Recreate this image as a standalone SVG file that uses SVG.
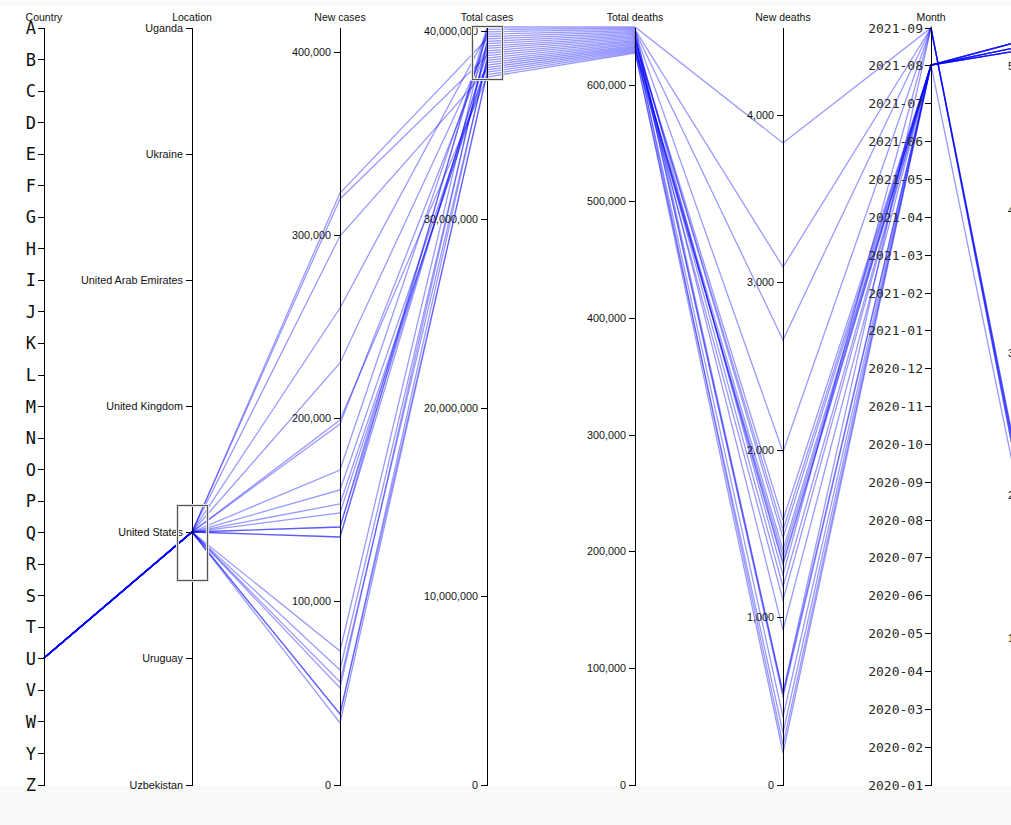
<svg xmlns="http://www.w3.org/2000/svg" width="1011" height="825" viewBox="0 0 1011 825">
<style>
.ax{stroke:#000;stroke-width:1;fill:none;shape-rendering:crispEdges}
.tl{font-family:"Liberation Sans",Arial,sans-serif;font-size:10.8px;fill:#111;text-anchor:end}
.tt{font-family:"Liberation Sans",Arial,sans-serif;font-size:10.5px;fill:#111;text-anchor:middle}
.big{font-family:"DejaVu Sans Mono",monospace;font-size:17px;fill:#111;text-anchor:end}
.mon{font-family:"DejaVu Sans Mono",monospace;font-size:13px;fill:#2a2a2a;text-anchor:end}
.fg polyline{fill:none;stroke:#0000ff;stroke-opacity:0.4;stroke-width:1.3}
.brh{fill:none;stroke:#e2e2e2;stroke-width:3}
.br{fill:none;stroke:#555;stroke-width:1;shape-rendering:crispEdges}
</style>
<rect x="0" y="0" width="1011" height="825" fill="#f9f9f9"/>
<rect x="0" y="6" width="1011" height="780" fill="#fff"/>

<g id="connectors" class="fg">
<polyline points="44,658 192,532 340,420 487,77 635,53 783,556 931,65 1078,785"/>
<polyline points="44,658 192,532 340,714 487,74.6 635,51.8 783,733 931,65 1078,26"/>
<polyline points="44,658 192,532 340,723 487,72.2 635,50.5 783,753 931,65 1078,35"/>
<polyline points="44,658 192,532 340,236 487,69.9 635,49.3 783,600 931,65 1078,41"/>
<polyline points="44,658 192,532 340,504 487,67.5 635,48 783,550 931,65 1078,26"/>
<polyline points="44,658 192,532 340,490 487,65.1 635,46.8 783,562 931,65 1078,35"/>
<polyline points="44,658 192,532 340,513 487,62.7 635,45.6 783,565 931,65 1078,41"/>
<polyline points="44,658 192,532 340,682 487,60.3 635,44.3 783,717 931,65 1078,26"/>
<polyline points="44,658 192,532 340,714 487,58 635,43.1 783,745 931,65 1078,35"/>
<polyline points="44,658 192,532 340,199 487,55.6 635,41.8 783,587 931,65 1078,41"/>
<polyline points="44,658 192,532 340,527 487,53.2 635,40.6 783,530 931,65 1078,26"/>
<polyline points="44,658 192,532 340,537 487,50.8 635,39.4 783,520 931,65 1078,35"/>
<polyline points="44,658 192,532 340,424 487,48.4 635,38.1 783,538 931,65 1078,41"/>
<polyline points="44,658 192,532 340,363 487,46.1 635,36.9 783,630 931,65 1078,26"/>
<polyline points="44,658 192,532 340,670 487,43.7 635,35.6 783,693 931,65 1078,35"/>
<polyline points="44,658 192,532 340,688 487,41.3 635,34.4 783,697 931,65 1078,41"/>
<polyline points="44,658 192,532 340,193 487,38.9 635,33.2 783,575 931,28 1078,765"/>
<polyline points="44,658 192,532 340,470 487,36.5 635,31.9 783,452 931,28 1078,775"/>
<polyline points="44,658 192,532 340,308 487,34.2 635,30.7 783,340 931,28 1078,785"/>
<polyline points="44,658 192,532 340,527 487,31.8 635,29.4 783,267 931,28 1078,765"/>
<polyline points="44,658 192,532 340,651 487,29.4 635,28.2 783,693 931,28 1078,775"/>
<polyline points="44,658 192,532 340,537 487,27 635,27 783,143 931,28 1078,785"/>
</g>

<g id="axis-country">
<path class="ax" d="M44.5,28V785"/>
<path class="ax" d="M38,28H44.5M38,59.5H44.5M38,91.1H44.5M38,122.6H44.5M38,154.2H44.5M38,185.7H44.5M38,217.3H44.5M38,248.8H44.5M38,280.3H44.5M38,311.9H44.5M38,343.4H44.5M38,375H44.5M38,406.5H44.5M38,438H44.5M38,469.6H44.5M38,501.1H44.5M38,532.7H44.5M38,564.2H44.5M38,595.8H44.5M38,627.3H44.5M38,658.8H44.5M38,690.4H44.5M38,721.9H44.5M38,753.5H44.5M38,785H44.5"/>
<text class="big" x="36" y="34">A</text>
<text class="big" x="36" y="65.5">B</text>
<text class="big" x="36" y="97.1">C</text>
<text class="big" x="36" y="128.6">D</text>
<text class="big" x="36" y="160.2">E</text>
<text class="big" x="36" y="191.7">F</text>
<text class="big" x="36" y="223.3">G</text>
<text class="big" x="36" y="254.8">H</text>
<text class="big" x="36" y="286.3">I</text>
<text class="big" x="36" y="317.9">J</text>
<text class="big" x="36" y="349.4">K</text>
<text class="big" x="36" y="381">L</text>
<text class="big" x="36" y="412.5">M</text>
<text class="big" x="36" y="444">N</text>
<text class="big" x="36" y="475.6">O</text>
<text class="big" x="36" y="507.1">P</text>
<text class="big" x="36" y="538.7">Q</text>
<text class="big" x="36" y="570.2">R</text>
<text class="big" x="36" y="601.8">S</text>
<text class="big" x="36" y="633.3">T</text>
<text class="big" x="36" y="664.8">U</text>
<text class="big" x="36" y="696.4">V</text>
<text class="big" x="36" y="727.9">W</text>
<text class="big" x="36" y="759.5">Y</text>
<text class="big" x="36" y="791">Z</text>
<text class="tt" x="44" y="21">Country</text>
</g>

<g id="axis-location">
<path class="ax" d="M192.5,28V785"/>
<path class="ax" d="M186,28H192.5M186,154.2H192.5M186,280.3H192.5M186,406.5H192.5M186,532.7H192.5M186,658.8H192.5M186,785H192.5"/>
<text class="tl" x="183" y="31.5">Uganda</text>
<text class="tl" x="183" y="157.7">Ukraine</text>
<text class="tl" x="183" y="283.8">United Arab Emirates</text>
<text class="tl" x="183" y="410">United Kingdom</text>
<text class="tl" x="183" y="536.2">United States</text>
<text class="tl" x="183" y="662.3">Uruguay</text>
<text class="tl" x="183" y="788.5">Uzbekistan</text>
<text class="tt" x="192" y="21">Location</text>
</g>

<g id="axis-new-cases">
<path class="ax" d="M340.5,28V785"/>
<path class="ax" d="M334,52H340.5M334,235.2H340.5M334,418.5H340.5M334,601.7H340.5M334,785H340.5"/>
<text class="tl" x="331" y="55.5">400,000</text>
<text class="tl" x="331" y="238.7">300,000</text>
<text class="tl" x="331" y="422">200,000</text>
<text class="tl" x="331" y="605.2">100,000</text>
<text class="tl" x="331" y="788.5">0</text>
<text class="tt" x="340" y="21">New cases</text>
</g>

<g id="axis-total-cases">
<path class="ax" d="M487.5,28V785"/>
<path class="ax" d="M481,31H487.5M481,219.5H487.5M481,408H487.5M481,596.5H487.5M481,785H487.5"/>
<text class="tl" x="478" y="34.5">40,000,000</text>
<text class="tl" x="478" y="223">30,000,000</text>
<text class="tl" x="478" y="411.5">20,000,000</text>
<text class="tl" x="478" y="600">10,000,000</text>
<text class="tl" x="478" y="788.5">0</text>
<text class="tt" x="487" y="21">Total cases</text>
</g>

<g id="axis-total-deaths">
<path class="ax" d="M635.5,28V785"/>
<path class="ax" d="M629,85H635.5M629,201.7H635.5M629,318.3H635.5M629,435H635.5M629,551.7H635.5M629,668.3H635.5M629,785H635.5"/>
<text class="tl" x="626" y="88.5">600,000</text>
<text class="tl" x="626" y="205.2">500,000</text>
<text class="tl" x="626" y="321.8">400,000</text>
<text class="tl" x="626" y="438.5">300,000</text>
<text class="tl" x="626" y="555.2">200,000</text>
<text class="tl" x="626" y="671.8">100,000</text>
<text class="tl" x="626" y="788.5">0</text>
<text class="tt" x="635" y="21">Total deaths</text>
</g>

<g id="axis-new-deaths">
<path class="ax" d="M783.5,28V785"/>
<path class="ax" d="M777,115H783.5M777,282.5H783.5M777,450H783.5M777,617.5H783.5M777,785H783.5"/>
<text class="tl" x="774" y="118.5">4,000</text>
<text class="tl" x="774" y="286">3,000</text>
<text class="tl" x="774" y="453.5">2,000</text>
<text class="tl" x="774" y="621">1,000</text>
<text class="tl" x="774" y="788.5">0</text>
<text class="tt" x="783" y="21">New deaths</text>
</g>

<g id="axis-month">
<path class="ax" d="M931.5,28V785"/>
<path class="ax" d="M925,28H931.5M925,65.9H931.5M925,103.7H931.5M925,141.6H931.5M925,179.4H931.5M925,217.3H931.5M925,255.1H931.5M925,293H931.5M925,330.8H931.5M925,368.7H931.5M925,406.5H931.5M925,444.4H931.5M925,482.2H931.5M925,520.1H931.5M925,557.9H931.5M925,595.8H931.5M925,633.6H931.5M925,671.5H931.5M925,709.3H931.5M925,747.2H931.5M925,785H931.5"/>
<text class="mon" x="923" y="32.5">2021-09</text>
<text class="mon" x="923" y="70.4">2021-08</text>
<text class="mon" x="923" y="108.2">2021-07</text>
<text class="mon" x="923" y="146.1">2021-06</text>
<text class="mon" x="923" y="183.9">2021-05</text>
<text class="mon" x="923" y="221.8">2021-04</text>
<text class="mon" x="923" y="259.6">2021-03</text>
<text class="mon" x="923" y="297.5">2021-02</text>
<text class="mon" x="923" y="335.3">2021-01</text>
<text class="mon" x="923" y="373.2">2020-12</text>
<text class="mon" x="923" y="411">2020-11</text>
<text class="mon" x="923" y="448.9">2020-10</text>
<text class="mon" x="923" y="486.7">2020-09</text>
<text class="mon" x="923" y="524.6">2020-08</text>
<text class="mon" x="923" y="562.4">2020-07</text>
<text class="mon" x="923" y="600.3">2020-06</text>
<text class="mon" x="923" y="638.1">2020-05</text>
<text class="mon" x="923" y="676">2020-04</text>
<text class="mon" x="923" y="713.8">2020-03</text>
<text class="mon" x="923" y="751.7">2020-02</text>
<text class="mon" x="923" y="789.5">2020-01</text>
<text class="tt" x="931" y="21">Month</text>
</g>

<g id="axis-next">
<text class="tl" x="1008" y="70" style="text-anchor:start">5</text>
<text class="tl" x="1008" y="213.5" style="text-anchor:start">4</text>
<text class="tl" x="1008" y="356.5" style="text-anchor:start">3</text>
<text class="tl" x="1008" y="498.5" style="text-anchor:start">2</text>
<text class="tl" x="1008" y="641.5" style="text-anchor:start">1</text>
</g>

<g id="brush-location">
<rect class="brh" x="177.5" y="505.5" width="30" height="75"/>
<rect class="br" x="177.5" y="505.5" width="30" height="75"/>
</g>
<g id="brush-total-cases">
<rect class="brh" x="472.5" y="26.5" width="30" height="53"/>
<rect class="br" x="472.5" y="26.5" width="30" height="53"/>
</g>
</svg>
